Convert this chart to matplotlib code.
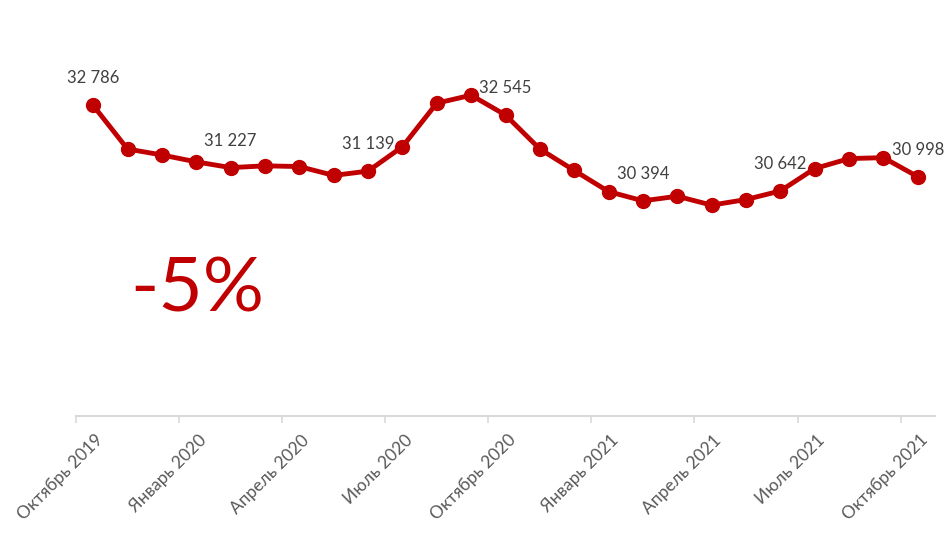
import matplotlib
matplotlib.use("Agg")
import matplotlib.pyplot as plt
import matplotlib.transforms as mtransforms

months = ["Октябрь 2019", "Ноябрь 2019", "Декабрь 2019", "Январь 2020", "Февраль 2020",
          "Март 2020", "Апрель 2020", "Май 2020", "Июнь 2020", "Июль 2020", "Август 2020",
          "Сентябрь 2020", "Октябрь 2020", "Ноябрь 2020", "Декабрь 2020", "Январь 2021",
          "Февраль 2021", "Март 2021", "Апрель 2021", "Май 2021", "Июнь 2021", "Июль 2021",
          "Август 2021", "Сентябрь 2021", "Октябрь 2021"]
values = [32786, 31693, 31544, 31371, 31227, 31271, 31254, 31031, 31139, 31751, 32843,
          33042, 32545, 31693, 31155, 30626, 30394, 30509, 30286, 30427, 30642, 31204,
          31453, 31477, 30998]
labeled_idx = [0, 4, 8, 12, 16, 20, 24]
tick_labels = ["Октябрь 2019", "Январь 2020", "Апрель 2020", "Июль 2020", "Октябрь 2020",
               "Январь 2021", "Апрель 2021", "Июль 2021", "Октябрь 2021"]
change_text = "-5%"

plt.rcParams['font.family'] = ['Lato', 'DejaVu Sans']

fig = plt.figure(figsize=(9.48, 5.33), dpi=100)
ax = fig.add_axes([76/948, 1-416/533, (935-76)/948, (416-57)/533])

x = list(range(len(values)))
red = "#C00000"
ax.plot(x, values, color=red, lw=3.5, marker="o", ms=10, solid_capstyle="round", zorder=3)

for i in labeled_idx:
    ax.annotate(f"{values[i]:,}".replace(",", " "), (x[i], values[i]),
                xytext=(0, 19.5), textcoords="offset points", ha="center", va="center",
                fontsize=12, color="#404040")

ax.set_xlim(-0.5, len(values) - 0.5)
ax.set_ylim(25000, 34000)

ticks = [i - 0.5 for i in range(0, len(values), 3)]
ax.set_xticks(ticks)
ax.set_xticklabels([])
ax.tick_params(axis="x", length=5, color="#D9D9D9", width=1.2)
base = ax.get_xaxis_transform()
offset = mtransforms.ScaledTranslation(19/100, -16/100, fig.dpi_scale_trans)
for t, lab in zip(ticks, tick_labels):
    ax.text(t, 0, lab, transform=base + offset, rotation=45, ha="right", va="top",
            rotation_mode="anchor", fontsize=12.5, color="#595959", clip_on=False)
ax.set_yticks([])
for s in ["top", "right", "left"]:
    ax.spines[s].set_visible(False)
ax.spines["bottom"].set_color("#D9D9D9")
ax.spines["bottom"].set_linewidth(1.5)

fig.text(130/948, 1-312/533, change_text, fontsize=55, color=red, ha="left", va="baseline")

fig.savefig("out.png", dpi=100)
